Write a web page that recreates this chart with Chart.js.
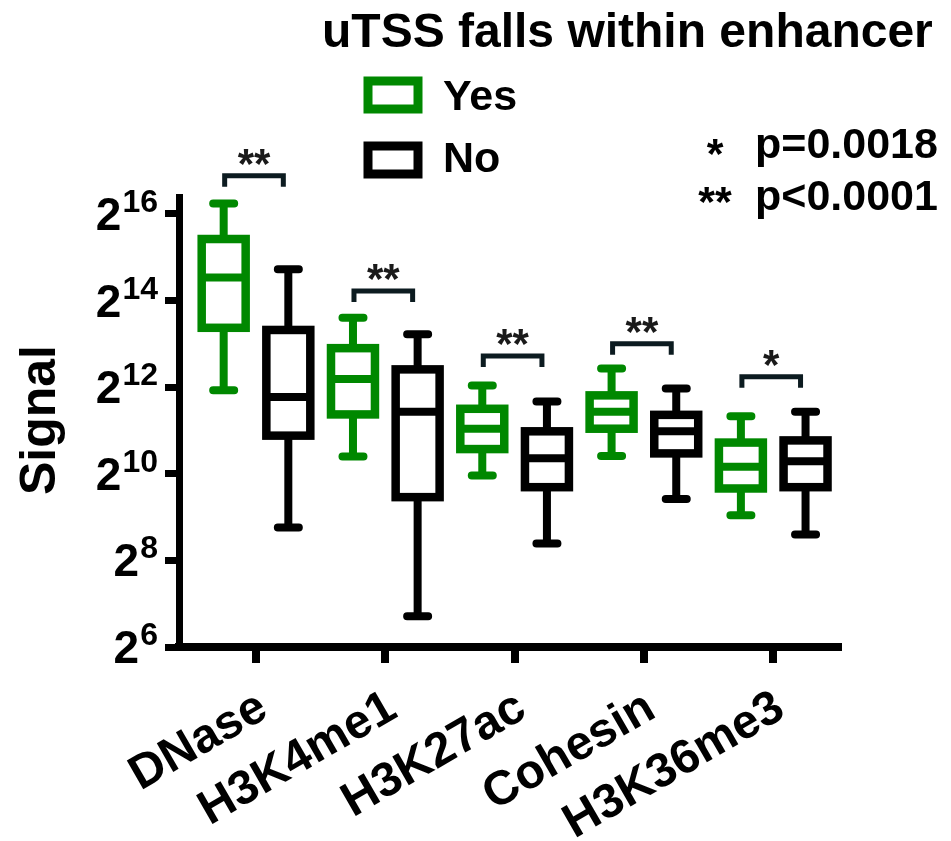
<!DOCTYPE html>
<html>
<head>
<meta charset="utf-8">
<script src="https://cdn.jsdelivr.net/npm/chart.js@4.4.1/dist/chart.umd.min.js"></script>
<style>
  html, body { margin: 0; padding: 0; background: #ffffff; }
  #wrap { width: 951px; height: 841px; position: relative; }
</style>
</head>
<body>
<div id="wrap"><canvas id="chart" width="951" height="841"></canvas></div>
<script>
// Histone marks / accessibility assays on the x axis
const categories = ['DNase', 'H3K4me1', 'H3K27ac', 'Cohesin', 'H3K36me3'];

// Box-plot summaries, in log2(signal) units: whisker min, Q1, median, Q3, whisker max
const yesMin = [11.93, 10.40, 9.96, 10.41, 9.04];
const yesQ1  = [13.37, 11.37, 10.57, 11.04, 9.66];
const yesMed = [14.53, 12.19, 11.04, 11.43, 10.16];
const yesQ3  = [15.42, 12.90, 11.50, 11.81, 10.72];
const yesMax = [16.24, 13.60, 12.04, 12.43, 11.33];

const noMin = [8.76, 6.71, 8.39, 9.42, 8.60];
const noQ1  = [10.88, 9.46, 9.69, 10.47, 9.69];
const noMed = [11.77, 11.43, 10.36, 10.98, 10.29];
const noQ3  = [13.32, 12.41, 10.98, 11.36, 10.77];
const noMax = [14.72, 13.22, 11.67, 11.97, 11.43];

// Significance between Yes and No for each mark, and the level (log2 units) of its bracket
const significance = ['**', '**', '**', '**', '*'];
const bracketLevel = [16.88, 14.22, 12.72, 13.0, 12.24];

// Exponents shown on the y axis (labels read 2^n)
const yTickExponents = [6, 8, 10, 12, 14, 16];

const legendTitle = 'uTSS falls within enhancer';
const seriesNames = ['Yes', 'No'];
const pNotes = [['*', 'p=0.0018'], ['**', 'p<0.0001']];

const GREEN = '#008800';
const BLACK = '#000000';
const INK = '#0c1b20';
const FONT = '"Liberation Sans", Arial, Helvetica, sans-serif';

const summaries = [
  { min: yesMin, q1: yesQ1, med: yesMed, q3: yesQ3, max: yesMax },
  { min: noMin, q1: noQ1, med: noMed, q3: noQ3, max: noMax }
];

function boxData(s) {
  return categories.map((c, i) => ({ x: i, y: [s.q1[i], s.q3[i]] }));
}

const boxPlotPlugin = {
  id: 'boxPlot',
  afterDatasetsDraw(chart) {
    const ctx = chart.ctx;
    const ys = chart.scales.y;
    ctx.save();
    chart.data.datasets.forEach((ds, di) => {
      const meta = chart.getDatasetMeta(di);
      const s = summaries[di];
      const color = ds.strokeColor;
      meta.data.forEach((el, i) => {
        const { x, width } = el.getProps(['x', 'width'], true);
        const yMin = ys.getPixelForValue(s.min[i]);
        const yQ1 = ys.getPixelForValue(s.q1[i]);
        const yMed = ys.getPixelForValue(s.med[i]);
        const yQ3 = ys.getPixelForValue(s.q3[i]);
        const yMax = ys.getPixelForValue(s.max[i]);
        const x0 = x - width / 2;
        ctx.strokeStyle = color;
        // whisker stems
        ctx.lineCap = 'butt';
        ctx.lineWidth = 8;
        ctx.beginPath();
        ctx.moveTo(x, yQ3); ctx.lineTo(x, yMax);
        ctx.moveTo(x, yQ1); ctx.lineTo(x, yMin);
        ctx.stroke();
        // whisker caps
        ctx.lineCap = 'round';
        ctx.beginPath();
        ctx.moveTo(x - 10.5, yMax); ctx.lineTo(x + 10.5, yMax);
        ctx.moveTo(x - 10.5, yMin); ctx.lineTo(x + 10.5, yMin);
        ctx.stroke();
        // box and median
        ctx.lineCap = 'butt';
        ctx.lineJoin = 'miter';
        ctx.lineWidth = 8.5;
        ctx.strokeRect(x0, yQ3, width, yQ1 - yQ3);
        ctx.lineWidth = 8;
        ctx.beginPath();
        ctx.moveTo(x0, yMed); ctx.lineTo(x0 + width, yMed);
        ctx.stroke();
      });
    });
    ctx.restore();
  }
};

const annotationPlugin = {
  id: 'annotations',
  afterDraw(chart) {
    const ctx = chart.ctx;
    const ys = chart.scales.y;
    const xs = chart.scales.x;
    ctx.save();

    // y tick labels as 2 with a superscript exponent, right-aligned next to the ticks
    ctx.fillStyle = BLACK;
    yTickExponents.forEach(e => {
      const py = ys.getPixelForValue(e);
      ctx.font = 'bold 32px ' + FONT;
      const sup = String(e);
      const supW = ctx.measureText(sup).width;
      const sx = 158 - supW;
      ctx.textAlign = 'left';
      ctx.textBaseline = 'alphabetic';
      ctx.fillText(sup, sx, py - 2);
      ctx.font = 'bold 46px ' + FONT;
      ctx.textAlign = 'right';
      ctx.fillText('2', sx - 1, py + 16);
    });

    // y axis title
    ctx.save();
    ctx.translate(55, 420);
    ctx.rotate(-Math.PI / 2);
    ctx.font = 'bold 50px ' + FONT;
    ctx.textAlign = 'center';
    ctx.textBaseline = 'alphabetic';
    ctx.fillText('Signal', 0, 0);
    ctx.restore();

    // rotated category labels
    ctx.font = 'bold 48px ' + FONT;
    categories.forEach((c, i) => {
      const px = xs.getPixelForValue(i);
      ctx.save();
      ctx.translate(px + 14, 716);
      ctx.rotate(-Math.PI / 6);
      ctx.textAlign = 'right';
      ctx.textBaseline = 'alphabetic';
      ctx.fillText(c, 0, 0);
      ctx.restore();
    });

    // significance brackets
    const yesMeta = chart.getDatasetMeta(0);
    const noMeta = chart.getDatasetMeta(1);
    categories.forEach((c, i) => {
      const gx = yesMeta.data[i].getProps(['x'], true).x;
      const bx = noMeta.data[i].getProps(['x'], true).x;
      const l = gx + 1, r = bx - 5;
      const yb = ys.getPixelForValue(bracketLevel[i]);
      ctx.strokeStyle = INK;
      ctx.lineWidth = 5;
      ctx.lineJoin = 'miter';
      ctx.lineCap = 'butt';
      ctx.beginPath();
      ctx.moveTo(l, yb + 11);
      ctx.lineTo(l, yb);
      ctx.lineTo(r, yb);
      ctx.lineTo(r, yb + 11);
      ctx.stroke();
      ctx.fillStyle = '#1a1a1a';
      ctx.font = 'bold 42px ' + FONT;
      ctx.textAlign = 'center';
      ctx.textBaseline = 'alphabetic';
      ctx.fillText(significance[i], (l + r) / 2, yb + 2);
    });

    // legend
    ctx.fillStyle = BLACK;
    ctx.font = 'bold 48px ' + FONT;
    ctx.textAlign = 'left';
    ctx.textBaseline = 'alphabetic';
    ctx.fillText(legendTitle, 322, 47);
    const legendRows = [
      { color: GREEN, boxY: 81, textY: 110 },
      { color: BLACK, boxY: 146, textY: 172 }
    ];
    legendRows.forEach((row, k) => {
      ctx.strokeStyle = row.color;
      ctx.lineWidth = 9;
      ctx.strokeRect(368, row.boxY, 50, 28);
      ctx.fillStyle = BLACK;
      ctx.font = 'bold 43px ' + FONT;
      ctx.fillText(seriesNames[k], 443, row.textY);
    });

    // p-value key
    ctx.fillStyle = BLACK;
    ctx.font = 'bold 43px ' + FONT;
    const noteRows = [{ starY: 168, textY: 158 }, { starY: 216, textY: 210 }];
    pNotes.forEach((n, k) => {
      ctx.textAlign = 'center';
      ctx.fillText(n[0], 715, noteRows[k].starY);
      ctx.textAlign = 'left';
      ctx.fillText(n[1], 755, noteRows[k].textY);
    });

    ctx.restore();
  }
};

new Chart(document.getElementById('chart'), {
  type: 'bar',
  data: {
    datasets: [
      { label: seriesNames[0], data: boxData(summaries[0]), backgroundColor: '#ffffff', borderWidth: 0, strokeColor: GREEN },
      { label: seriesNames[1], data: boxData(summaries[1]), backgroundColor: '#ffffff', borderWidth: 0, strokeColor: BLACK }
    ]
  },
  options: {
    responsive: false,
    animation: false,
    events: [],
    categoryPercentage: 1.0,
    barPercentage: 0.68,
    layout: { padding: { top: 197, left: 0, right: 113, bottom: 0 } },
    plugins: { legend: { display: false }, tooltip: { enabled: false }, title: { display: false } },
    scales: {
      x: {
        type: 'linear',
        offset: false,
        min: -0.5955,
        max: 4.501,
        afterBuildTicks(scale) { scale.ticks = categories.map((c, i) => ({ value: i })); },
        afterFit(scale) { scale.height = 194; },
        ticks: { display: false },
        grid: { offset: false, drawOnChartArea: false, drawTicks: true, tickLength: 16, lineWidth: 8, color: BLACK },
        border: { display: true, width: 8, color: BLACK }
      },
      y: {
        type: 'linear',
        min: 6,
        max: 16.39,
        afterBuildTicks(scale) { scale.ticks = yTickExponents.map(v => ({ value: v })); },
        afterFit(scale) { scale.width = 179; },
        ticks: { display: false },
        grid: { drawOnChartArea: false, drawTicks: true, tickLength: 14, lineWidth: 7, color: BLACK },
        border: { display: true, width: 7, color: BLACK }
      }
    }
  },
  plugins: [boxPlotPlugin, annotationPlugin]
});
</script>
</body>
</html>
